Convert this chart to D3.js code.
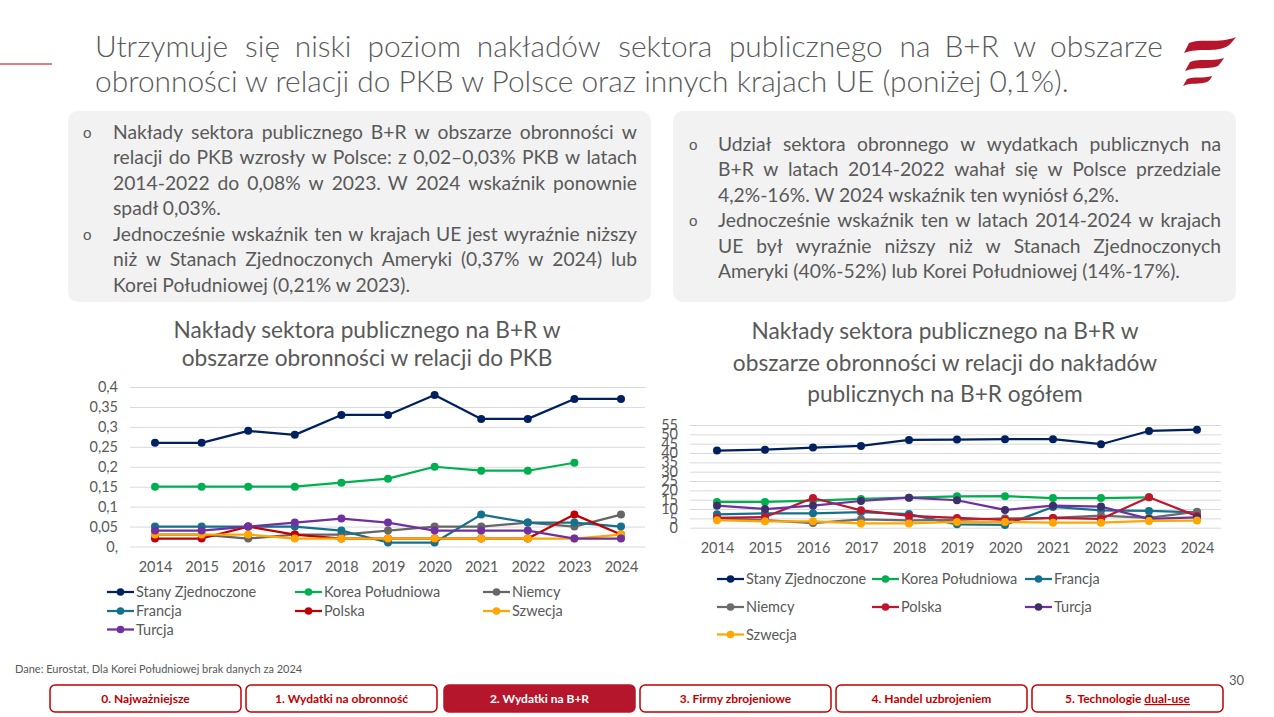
<!DOCTYPE html>
<html lang="pl">
<head>
<meta charset="utf-8">
<script src="https://cdn.jsdelivr.net/npm/d3@7"></script>
<style>
  body { margin: 0; background: #fff; }
  #slide { width: 1274px; height: 717px; overflow: hidden; }
  text { font-family: Lato, "Open Sans", sans-serif; fill: #595959; }
  .grid line { stroke: #d9d9d9; }
  .grid path { display: none; }
  .axis path, .axis line { display: none; }
</style>
</head>
<body>
<div id="slide"></div>
<script>
  // ---- data ----
  const YEARS = [2014, 2015, 2016, 2017, 2018, 2019, 2020, 2021, 2022, 2023, 2024];

  // left chart: % PKB
  const GDP_TICKS = [0, 0.05, 0.1, 0.15, 0.2, 0.25, 0.3, 0.35, 0.4];
  const GDP_TICK_LABELS = ["0,", "0,05", "0,1", "0,15", "0,2", "0,25", "0,3", "0,35", "0,4"];
  const GDP_USA = [0.26, 0.26, 0.29, 0.28, 0.33, 0.33, 0.38, 0.32, 0.32, 0.37, 0.37];
  const GDP_KOREA = [0.15, 0.15, 0.15, 0.15, 0.16, 0.17, 0.2, 0.19, 0.19, 0.21, null];
  const GDP_GERMANY = [0.03, 0.03, 0.02, 0.03, 0.03, 0.04, 0.05, 0.05, 0.06, 0.05, 0.08];
  const GDP_FRANCE = [0.05, 0.05, 0.05, 0.05, 0.04, 0.01, 0.01, 0.08, 0.06, 0.06, 0.05];
  const GDP_POLAND = [0.02, 0.02, 0.05, 0.03, 0.02, 0.02, 0.02, 0.02, 0.02, 0.08, 0.03];
  const GDP_SWEDEN = [0.03, 0.03, 0.03, 0.02, 0.02, 0.02, 0.02, 0.02, 0.02, 0.02, 0.03];
  const GDP_TURKEY = [0.04, 0.04, 0.05, 0.06, 0.07, 0.06, 0.04, 0.04, 0.04, 0.02, 0.02];

  // right chart: % of public R&D spending
  const SHARE_TICKS = [0, 5, 10, 15, 20, 25, 30, 35, 40, 45, 50, 55];
  const SHARE_USA = [41.3, 41.8, 42.9, 43.8, 47.0, 47.2, 47.4, 47.4, 44.7, 51.8, 52.5];
  const SHARE_KOREA = [13.8, 13.8, 14.5, 15.4, 16.1, 16.8, 16.9, 15.9, 15.9, 16.3, null];
  const SHARE_FRANCE = [7.2, 7.7, 7.7, 8.4, 7.3, 1.8, 1.5, 11.1, 9.3, 9.0, 8.2];
  const SHARE_GERMANY = [5.0, 4.0, 2.5, 4.5, 3.9, 4.2, 5.0, 5.2, 6.5, 5.3, 8.6];
  const SHARE_POLAND = [5.2, 5.7, 15.9, 9.3, 6.3, 5.2, 4.2, 5.2, 4.7, 16.3, 6.2];
  const SHARE_TURKEY = [11.8, 10.0, 11.8, 14.3, 16.1, 14.7, 9.5, 11.8, 11.3, 4.7, 5.5];
  const SHARE_SWEDEN = [4.0, 3.4, 3.4, 2.3, 2.3, 3.1, 3.0, 2.7, 2.7, 3.6, 3.8];

  const TITLE_LINES = [
    "Utrzymuje się niski poziom nakładów sektora publicznego na B+R w obszarze",
    "obronności w relacji do PKB w Polsce oraz innych krajach UE (poniżej 0,1%)."
  ];
  const LEFT_BOX_LINES = [
    "Nakłady sektora publicznego B+R w obszarze obronności w",
    "relacji do PKB wzrosły w Polsce: z 0,02–0,03% PKB w latach",
    "2014-2022 do 0,08% w 2023. W 2024 wskaźnik ponownie",
    "spadł 0,03%.",
    "Jednocześnie wskaźnik ten w krajach UE jest wyraźnie niższy",
    "niż w Stanach Zjednoczonych Ameryki (0,37% w 2024) lub",
    "Korei Południowej (0,21% w 2023)."
  ];
  const RIGHT_BOX_LINES = [
    "Udział sektora obronnego w wydatkach publicznych na",
    "B+R w latach 2014-2022 wahał się w Polsce przedziale",
    "4,2%-16%. W 2024 wskaźnik ten wyniósł 6,2%.",
    "Jednocześnie wskaźnik ten w latach 2014-2024 w krajach",
    "UE był wyraźnie niższy niż w Stanach Zjednoczonych",
    "Ameryki (40%-52%) lub Korei Południowej (14%-17%)."
  ];
  const LEFT_TITLE = ["Nakłady sektora publicznego na B+R w", "obszarze obronności w relacji do PKB"];
  const RIGHT_TITLE = ["Nakłady sektora publicznego na B+R w", "obszarze obronności w relacji do nakładów", "publicznych na B+R ogółem"];
  const NAV_LABELS = ["0. Najważniejsze", "1. Wydatki na obronność", "2. Wydatki na B+R",
    "3. Firmy zbrojeniowe", "4. Handel uzbrojeniem", "5. Technologie "];

  const COLORS = {
    usa: "#002060", korea: "#00b050", germany: "#666666", france: "#14718d",
    poland: "#c00000", sweden: "#ffa600", turkey: "#7030a0", red: "#c00000"
  };

  const gdpSeries = [
    { name: "Stany Zjednoczone", values: GDP_USA, color: COLORS.usa },
    { name: "Korea Południowa", values: GDP_KOREA, color: COLORS.korea },
    { name: "Niemcy", values: GDP_GERMANY, color: COLORS.germany },
    { name: "Francja", values: GDP_FRANCE, color: COLORS.france },
    { name: "Polska", values: GDP_POLAND, color: COLORS.poland },
    { name: "Szwecja", values: GDP_SWEDEN, color: COLORS.sweden },
    { name: "Turcja", values: GDP_TURKEY, color: COLORS.turkey }
  ];
  const shareSeries = [
    { name: "Stany Zjednoczone", values: SHARE_USA, color: COLORS.usa },
    { name: "Korea Południowa", values: SHARE_KOREA, color: COLORS.korea },
    { name: "Francja", values: SHARE_FRANCE, color: COLORS.france },
    { name: "Niemcy", values: SHARE_GERMANY, color: "#6b6b6b" },
    { name: "Polska", values: SHARE_POLAND, color: "#c0152f" },
    { name: "Turcja", values: SHARE_TURKEY, color: COLORS.turkey, marker: "#3c2f6a" },
    { name: "Szwecja", values: SHARE_SWEDEN, color: COLORS.sweden }
  ];

  const svg = d3.select("#slide").append("svg")
    .attr("width", 1274).attr("height", 717);

  // justified text line: words spread between x and x+width
  function textLine(parent, str, x, y, width, justify, size) {
    const t = parent.append("text").attr("x", x).attr("y", y).style("font-size", size + "px");
    if (!justify) { t.text(str); return t; }
    const words = str.split(" ");
    const spans = words.map((w) => t.append("tspan").text(w));
    const widths = spans.map((s) => s.node().getComputedTextLength());
    const gap = Math.max((width - d3.sum(widths)) / (words.length - 1), 3);
    let cx = x;
    spans.forEach((s, i) => { s.attr("x", cx); cx += widths[i] + gap; });
    return t;
  }

  // ---- header ----
  svg.append("line").attr("x1", 0).attr("x2", 52).attr("y1", 64).attr("y2", 64)
    .attr("stroke", COLORS.red).attr("stroke-width", 1);
  TITLE_LINES.forEach((l, i) => textLine(svg, l, 95, 57 + i * 35, 1070, i === 0, 29.9)
    .style("font-weight", 300));

  // logo stripes
  const logo = svg.append("g").attr("fill", "#b5162b");
  logo.append("path").attr("d", "M1184,53 L1189,43 C1201,38 1219,44 1236,37 C1233,41 1230,45 1226,47 C1211,53 1200,47 1184,53 Z");
  logo.append("path").attr("d", "M1185,71 L1190,62 C1200,58 1211,62 1224,58 C1222,61 1220,64 1218,66 C1207,70 1198,66 1185,71 Z");
  logo.append("path").attr("d", "M1183,86 L1187,79 C1194,76 1203,79 1212,76 C1211,79 1209,81 1207,82 C1199,85 1192,82 1183,86 Z");

  // ---- text boxes ----
  function textBox(x, y, w, h, lines, bullets, firstBaseline, textX, textW, bulletX) {
    const g = svg.append("g");
    g.append("rect").attr("x", x).attr("y", y).attr("width", w).attr("height", h)
      .attr("rx", 10).attr("fill", "#f2f2f2");
    lines.forEach((l, i) => {
      const by = firstBaseline + i * 25.5;
      const last = i === lines.length - 1 || bullets.includes(i + 1);
      textLine(g, l, textX, by, textW, !last, 19.3);
      if (bullets.includes(i)) {
        g.append("text").attr("x", bulletX).attr("y", by - 1).style("font-size", "15px").text("o");
      }
    });
  }
  textBox(68, 111, 583, 191, LEFT_BOX_LINES, [0, 4], 138.5, 113, 524, 83);
  textBox(673, 111, 563, 191, RIGHT_BOX_LINES, [0, 3], 150.5, 718, 503, 689);

  // ---- line chart helper ----
  function drawChart(opts) {
    const { series, ticks, tickLabels, yDomain, xRange, yRange, gridX, r, xLabelY, yLabelX } = opts;
    const g = svg.append("g");
    const x = d3.scalePoint().domain(YEARS).range(xRange);
    const y = d3.scaleLinear().domain(yDomain).range(yRange);

    g.append("g").attr("class", "grid")
      .attr("transform", `translate(${gridX[0]},0)`)
      .call(d3.axisLeft(y).tickValues(ticks).tickSize(-(gridX[1] - gridX[0])).tickFormat(""));

    g.append("g").attr("class", "axis")
      .attr("transform", `translate(${yLabelX},0)`)
      .call(d3.axisLeft(y).tickValues(ticks).tickSize(0).tickPadding(0)
        .tickFormat((d, i) => tickLabels[i]))
      .call((a) => a.selectAll("text").style("font-size", "14.5px").attr("fill", "#595959")
        .style("font-family", "Lato, sans-serif"));

    g.append("g").attr("class", "axis")
      .attr("transform", `translate(0,${xLabelY})`)
      .call(d3.axisBottom(x).tickSize(0).tickPadding(0))
      .call((a) => a.selectAll("text").style("font-size", "14.5px").attr("fill", "#595959")
        .attr("dy", "0.35em").style("font-family", "Lato, sans-serif"));

    const line = d3.line().defined((d) => d != null)
      .x((d, i) => x(YEARS[i])).y((d) => y(d));

    series.forEach((s) => {
      g.append("path").datum(s.values).attr("d", line)
        .attr("fill", "none").attr("stroke", s.color).attr("stroke-width", 2.25)
        .attr("stroke-linejoin", "round");
      g.selectAll(null).data(s.values.map((v, i) => ({ v, yr: YEARS[i] })).filter((d) => d.v != null))
        .enter().append("circle")
        .attr("cx", (d) => x(d.yr)).attr("cy", (d) => y(d.v)).attr("r", r)
        .attr("fill", s.marker || s.color);
    });
  }

  function drawLegend(series, cols, rows) {
    series.forEach((s, i) => {
      const lx = cols[i % 3];
      const ly = rows[Math.floor(i / 3)];
      const g = svg.append("g").attr("transform", `translate(${lx},${ly})`);
      g.append("line").attr("x1", 0).attr("x2", 27).attr("stroke", s.color).attr("stroke-width", 2.25);
      g.append("circle").attr("cx", 13.5).attr("r", 3.8).attr("fill", s.marker || s.color);
      g.append("text").attr("x", 29).attr("dy", "0.35em").style("font-size", "14.5px").text(s.name);
    });
  }

  // left chart
  LEFT_TITLE.forEach((l, i) => svg.append("text").attr("x", 367).attr("y", 338 + i * 28)
    .attr("text-anchor", "middle").style("font-size", "22.7px").text(l));
  drawChart({
    series: gdpSeries, ticks: GDP_TICKS, tickLabels: GDP_TICK_LABELS, yDomain: [0, 0.4],
    xRange: [155, 621], yRange: [546.5, 387], gridX: [130, 645], r: 4,
    xLabelY: 567, yLabelX: 118
  });
  drawLegend(gdpSeries, [107, 295, 483], [592, 611, 629.5]);

  // right chart
  RIGHT_TITLE.forEach((l, i) => svg.append("text").attr("x", 945).attr("y", 339 + i * 31.5)
    .attr("text-anchor", "middle").style("font-size", "22.7px").text(l));
  drawChart({
    series: shareSeries, ticks: SHARE_TICKS, tickLabels: SHARE_TICKS.map(String), yDomain: [0, 55],
    xRange: [717, 1197], yRange: [527.7, 425], gridX: [690, 1221], r: 4,
    xLabelY: 548, yLabelX: 678
  });
  drawLegend(shareSeries, [717, 872, 1025], [579, 607, 634.5]);

  // ---- footer ----
  svg.append("text").attr("x", 15).attr("y", 673).style("font-size", "11px")
    .text("Dane: Eurostat, Dla Korei Południowej brak danych za 2024");
  svg.append("text").attr("x", 1229).attr("y", 685).style("font-size", "13px").text("30");

  const NAV_X = [50, 246, 444, 640, 836, 1032];
  NAV_LABELS.forEach((label, i) => {
    const active = i === 2;
    const g = svg.append("g");
    g.append("rect").attr("x", NAV_X[i]).attr("y", 685).attr("width", 191).attr("height", 27)
      .attr("rx", 5).attr("fill", active ? "#b5162b" : "#fff")
      .attr("stroke", active ? "#b5162b" : COLORS.red).attr("stroke-width", 1.5);
    const t = g.append("text").attr("x", NAV_X[i] + 95.5).attr("y", 703).attr("text-anchor", "middle")
      .style("font-size", "12px").style("font-weight", 700)
      .style("fill", active ? "#fff" : COLORS.red).text(label);
    if (i === 5) {
      t.append("tspan").style("text-decoration", "underline").text("dual-use");
    }
  });
</script>
</body>
</html>
